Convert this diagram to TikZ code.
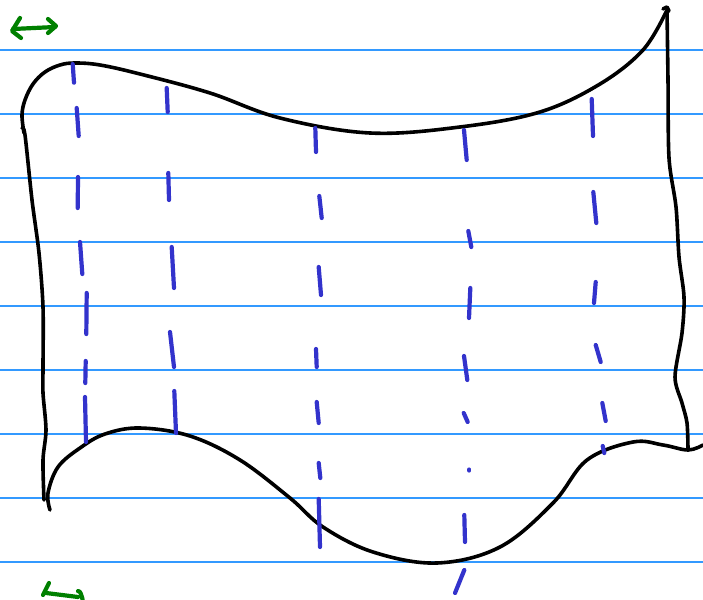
\documentclass[tikz,border=0pt]{standalone}
\usetikzlibrary{calc}
\definecolor{ruleblue}{RGB}{51,153,255}
\definecolor{penblue}{RGB}{51,51,204}
\definecolor{pengreen}{RGB}{0,128,0}
\tikzset{
  ruling/.style={ruleblue,line width=1.2pt},
  outline/.style={black,line width=3.6pt,line cap=round,line join=round},
  fibre/.style={penblue,line width=4.2pt,line cap=round},
  marker/.style={pengreen,line width=4.2pt,line cap=round,line join=round}
}
\begin{document}
\begin{tikzpicture}[x=1pt,y=-1pt]
  \useasboundingbox (0,0) rectangle (703,599);
  \fill[white] (0,0) rectangle (703,599);
  % ruled paper
  \foreach \y in {50,114,...,562}
    \draw[ruling] (0,\y) -- (703,\y);
  % green arrows
  \draw[marker] (20,18) -- (12,31) -- (21,38);
  \draw[marker] (13,29) -- (55,27);
  \draw[marker] (48,19) -- (56,26) -- (48,33);
  \draw[marker] (49,583) -- (43,595);
  \draw[marker] (46,593) -- (78,597);
  \draw[marker] (78,591) to[out=0,in=-90] (83,601);
  % the sheet
  \draw[outline] plot[smooth,tension=0.6] coordinates {(24,133) (22,115) (25,100) (33,84)
    (45,72) (60,65) (75,63) (100,65) (140,74) (210,93) (280,118) (370,133) (460,127)
    (540,112) (600,84) (643,50) (666,12)};
  \draw[outline] (663,9) -- (667,7) -- (669,11);
  \draw[outline] plot[smooth,tension=0.5] coordinates {(667,10) (668,80) (669,158) (676,207)
    (679,257) (684,297) (682,333) (675,377) (682,403) (687,423) (688,450)};
  \draw[outline] plot[smooth,tension=0.5] coordinates {(22,128) (25,135) (32,200) (39,253)
    (43,307) (43,367) (43,393) (46,430) (43,460) (44,500)};
  \draw[outline] plot[smooth,tension=0.6] coordinates {(50,510) (48,493) (58,467) (80,448)
    (105,434) (140,428) (190,436) (240,460) (290,498) (323,527) (373,552) (437,563)
    (500,547) (553,503) (587,460) (633,442) (663,445) (688,450) (703,445)};
  % fibres
  \foreach \xa/\ya/\xb/\yb in {72.7/64/74/82.7, 76.7/108/78.7/136, 78/177/77.7/208,
      80/242/82.3/274, 86.7/293/86.3/334, 85.7/361/85.3/383, 85/397/86/442,
      166.7/88/167.7/112, 168.3/173/169/200, 171.7/247/174/288, 170/332/174/367,
      174.3/391/176/433,
      315.3/128/316/152, 319.3/196/321.7/218, 318.7/267/321/295, 316/349/316.7/367,
      316.7/402/318.7/423, 318.7/463/320.3/478, 318.7/499/320/547,
      464/130/466.7/160, 468.3/231/471.3/247, 470.3/288/469/318, 464/356/467.3/380,
      463.7/413/467.7/422, 469.3/469.5/469.3/470.5, 464.3/515/465/542, 464.3/570/455/593,
      591.7/99/593/136, 593.3/192/596.3/223, 595.7/282/594/303, 595.7/345/600.7/362,
      602.3/403/605.7/421, 602.7/446/604.3/453}
    \draw[fibre] (\xa,\ya) -- (\xb,\yb);
\end{tikzpicture}
\end{document}
